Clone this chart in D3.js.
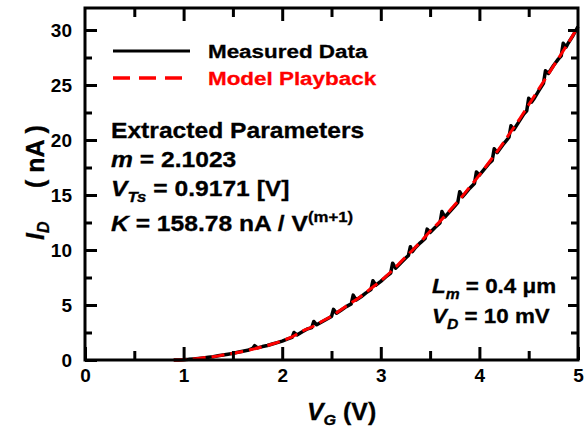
<!DOCTYPE html>
<html>
<head>
<meta charset="utf-8">
<script src="https://cdn.jsdelivr.net/npm/d3@7/dist/d3.min.js"></script>
<style>
  body { margin: 0; background: #fff; }
  text { font-family: "Liberation Sans", Arial, sans-serif; font-weight: bold; }
</style>
</head>
<body>
<svg width="585" height="430"></svg>
<script>
var measV = [0.90,0.95,1.00,1.05,1.10,1.15,1.20,1.25,1.30,1.35,1.40,1.45,1.50,1.55,1.60,1.65,1.70,1.72,1.75,1.80,
  1.85,1.90,1.95,2.00,2.05,2.10,2.12,2.15,2.20,2.25,2.30,2.32,2.35,2.40,2.45,2.50,2.52,2.55,2.60,2.65,
  2.70,2.72,2.75,2.80,2.85,2.90,2.92,2.95,3.00,3.05,3.10,3.12,3.15,3.20,3.25,3.28,3.30,3.32,3.35,3.40,
  3.45,3.47,3.50,3.55,3.60,3.62,3.65,3.70,3.75,3.78,3.80,3.83,3.85,3.90,3.95,3.97,4.00,4.05,4.10,4.13,
  4.15,4.18,4.20,4.25,4.30,4.32,4.35,4.40,4.45,4.48,4.50,4.53,4.55,4.60,4.65,4.67,4.70,4.75,4.80,4.83,
  4.85,4.88,4.90,4.95,5.00];
var measI = [0.00,0.01,0.03,0.06,0.10,0.14,0.19,0.24,0.30,0.38,0.45,0.52,0.60,0.70,0.80,0.88,1.05,1.30,1.10,1.22,
  1.32,1.45,1.58,1.72,1.90,2.05,2.50,2.28,2.55,2.80,2.95,3.50,3.20,3.45,3.70,3.95,4.60,4.25,4.55,4.85,
  5.10,5.90,5.45,5.75,6.10,6.40,7.20,6.80,7.15,7.55,7.90,8.80,8.35,8.80,9.25,9.50,10.30,9.85,10.20,10.65,
  11.05,11.90,11.60,12.05,12.45,13.50,13.00,13.50,14.00,14.30,15.30,14.85,15.05,15.60,16.05,17.10,16.80,17.35,17.90,18.15,
  19.20,18.85,19.10,19.70,20.25,21.30,20.95,21.65,22.35,22.65,23.80,23.45,23.70,24.45,25.15,26.30,26.05,26.75,27.35,27.65,
  28.80,28.45,28.80,29.50,30.30];

// model playback curve
var modelV = [0.9,1.0,1.1,1.2,1.3,1.4,1.5,1.6,1.7,1.8,1.9,2.0,2.1,2.2,2.3,2.4,2.5,2.6,2.7,2.8,2.9,
  3.0,3.1,3.2,3.3,3.4,3.5,3.6,3.7,3.8,3.9,4.0,4.1,4.2,4.3,4.4,4.5,4.6,4.7,4.8,4.9,5.0];
var modelI = [0,0.03,0.1,0.2,0.3,0.45,0.6,0.78,0.98,1.2,1.45,1.75,2.1,2.6,3.0,3.5,4.0,4.6,5.2,5.8,6.5,
  7.2,8.0,8.9,9.8,10.7,11.7,12.6,13.6,14.6,15.7,16.8,18.0,19.2,20.5,21.8,23.2,24.6,26.0,27.4,28.8,30.3];

var xMajor = [0,1,2,3,4,5];
var xMinor = [0.5,1.5,2.5,3.5,4.5];
var yMajor = [0,5,10,15,20,25,30];
var yMinor = [2.5,7.5,12.5,17.5,22.5,27.5];

drawChart();

function drawChart(){
  var svg = d3.select("svg");
  var pl = 85, pr = 578, pt = 8, pb = 360;

  var x = d3.scaleLinear().domain([0,5]).range([pl,pr]);
  var y = d3.scaleLinear().domain([0,32]).range([pb,pt]);

  //curves
  var line = d3.line().x(function(d){ return x(d[0]); }).y(function(d){ return y(d[1]); });

  svg.append("path")
    .datum(measV.map(function(v,i){ return [v, measI[i]]; }))
    .attr("d", line)
    .attr("fill","none")
    .attr("stroke","#000")
    .attr("stroke-width",3.5)
    .attr("stroke-linejoin","round");

  svg.append("path")
    .datum(modelV.map(function(v,i){ return [v, modelI[i]]; }))
    .attr("d", d3.line().curve(d3.curveMonotoneX).x(function(d){ return x(d[0]); }).y(function(d){ return y(d[1]); }))
    .attr("fill","none")
    .attr("stroke","#ff0000")
    .attr("stroke-width",3)
    .attr("stroke-dasharray","13,6");

  //frame
  svg.append("rect")
    .attr("x",pl).attr("y",pt)
    .attr("width",pr-pl).attr("height",pb-pt)
    .attr("fill","none").attr("stroke","#000").attr("stroke-width",3);

  function styleAxis(g){
    g.attr("font-size",19).attr("font-family",null);
    g.select(".domain").remove();
    g.selectAll(".tick line").attr("stroke","#000").attr("stroke-width",3);
    g.selectAll("text").attr("fill","#000");
  }

  svg.append("g").attr("transform","translate(0,"+pb+")")
    .call(d3.axisBottom(x).tickValues(xMajor).tickSize(-13).tickPadding(9).tickFormat(d3.format("d")))
    .call(styleAxis);
  svg.append("g").attr("transform","translate(0,"+pb+")")
    .call(d3.axisBottom(x).tickValues(xMinor).tickSize(-9).tickFormat(""))
    .call(styleAxis);
  svg.append("g").attr("transform","translate(0,"+pt+")")
    .call(d3.axisTop(x).tickValues(xMajor.slice(1,5)).tickSize(-13).tickFormat(""))
    .call(styleAxis);
  svg.append("g").attr("transform","translate(0,"+pt+")")
    .call(d3.axisTop(x).tickValues(xMinor).tickSize(-9).tickFormat(""))
    .call(styleAxis);

  svg.append("g").attr("transform","translate("+pl+",0)")
    .call(d3.axisLeft(y).tickValues(yMajor).tickSize(-12).tickPadding(13).tickFormat(d3.format("d")))
    .call(styleAxis);
  svg.append("g").attr("transform","translate("+pl+",0)")
    .call(d3.axisLeft(y).tickValues(yMinor).tickSize(-7).tickFormat(""))
    .call(styleAxis);
  svg.append("g").attr("transform","translate("+pr+",0)")
    .call(d3.axisRight(y).tickValues(yMajor.slice(1)).tickSize(-10).tickFormat(""))
    .call(styleAxis);
  svg.append("g").attr("transform","translate("+pr+",0)")
    .call(d3.axisRight(y).tickValues(yMinor).tickSize(-7).tickFormat(""))
    .call(styleAxis);

  // text helper: slightly widened, heavier glyphs like the original
  function label(tx, ty, size, sx){
    return svg.append("text")
      .attr("transform","translate("+tx+","+ty+") scale("+sx+",1)")
      .attr("font-size",size)
      .attr("stroke-width",0.3);
  }

  //axis titles
  var xt = label(307,420,23,1.08).attr("stroke","#000");
  xt.append("tspan").attr("font-style","italic").text("V");
  xt.append("tspan").attr("font-style","italic").attr("font-size",15).attr("dy",5).text("G");
  xt.append("tspan").attr("dy",-5).text(" (V)");

  var yt = svg.append("text").attr("transform","translate(44,240) rotate(-90)").attr("font-size",25)
    .attr("stroke","#000").attr("stroke-width",0.3);
  yt.append("tspan").attr("font-style","italic").text("I");
  yt.append("tspan").attr("font-style","italic").attr("font-size",16).attr("dy",5).text("D");
  svg.append("text").attr("transform","translate(44,188) rotate(-90)").attr("font-size",25)
    .attr("stroke","#000").attr("stroke-width",0.3)
    .text("( nA )");

  //legend
  svg.append("line").attr("x1",113).attr("x2",190).attr("y1",51).attr("y2",51)
    .attr("stroke","#000").attr("stroke-width",3);
  label(208,58,19,1.18).attr("stroke","#000").text("Measured Data");
  svg.append("line").attr("x1",113).attr("x2",182).attr("y1",78).attr("y2",78)
    .attr("stroke","#ff0000").attr("stroke-width",3.5).attr("stroke-dasharray","17,9");
  label(208,85,19,1.18).attr("fill","#ff0000").attr("stroke","#ff0000").text("Model Playback");

  //parameters
  label(111,138,22,1.12).attr("stroke","#000").text("Extracted Parameters");

  var t1 = label(111,167,22,1.12).attr("stroke","#000");
  t1.append("tspan").attr("font-style","italic").text("m");
  t1.append("tspan").text(" = 2.1023");

  var t2 = label(111,196,22,1.12).attr("stroke","#000");
  t2.append("tspan").attr("font-style","italic").text("V");
  t2.append("tspan").attr("font-style","italic").attr("font-size",15).attr("dy",6).text("Ts");
  t2.append("tspan").attr("dy",-6).text(" = 0.9171 [V]");

  var t3 = label(111,231,22,1.12).attr("stroke","#000");
  t3.append("tspan").attr("font-style","italic").text("K");
  t3.append("tspan").text(" = 158.78 nA / V");
  t3.append("tspan").attr("font-size",15).attr("dy",-9).text("(m+1)");

  var t4 = label(432,293,20,1.12).attr("stroke","#000");
  t4.append("tspan").attr("font-style","italic").text("L");
  t4.append("tspan").attr("font-style","italic").attr("font-size",14).attr("dy",6).text("m");
  t4.append("tspan").attr("dy",-6).text(" = 0.4 \u03bcm");

  var t5 = label(432,323,20,1.12).attr("stroke","#000");
  t5.append("tspan").attr("font-style","italic").text("V");
  t5.append("tspan").attr("font-style","italic").attr("font-size",14).attr("dy",6).text("D");
  t5.append("tspan").attr("dy",-6).text(" = 10 mV");
}
</script>
</body>
</html>
